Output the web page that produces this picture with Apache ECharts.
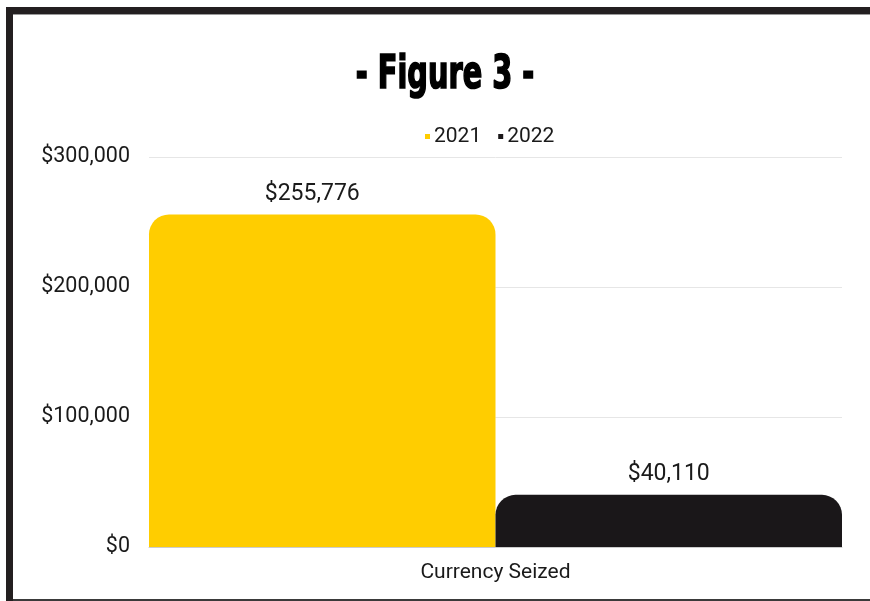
<!DOCTYPE html>
<html><head><meta charset="utf-8">
<script src="https://cdn.jsdelivr.net/npm/echarts@6/dist/echarts.min.js"></script>
<style>html,body{margin:0;padding:0;background:#fff}#c{width:870px;height:601px}</style>
</head><body><div id="c"></div>
<script>
const categories = ['Currency Seized'];
const seriesNames = ['2021', '2022'];
const values2021 = [255776];
const values2022 = [40110];
const yTicks = [0, 100000, 200000, 300000];

const chart = echarts.init(document.getElementById('c'), null, {renderer: 'canvas'});
const fmt = v => '$' + v.toLocaleString('en-US');
const labelStyle = {show: true, position: 'top', distance: 9, color: '#1a1a1a', fontFamily: 'Roboto', fontSize: 23, formatter: p => fmt(p.value)};
chart.setOption({
  animation: false,
  backgroundColor: '#fff',
  graphic: [
    {type: 'rect', shape: {x: 6, y: 7, width: 7, height: 594}, style: {fill: '#231f20'}},
    {type: 'rect', shape: {x: 6, y: 7, width: 864, height: 7}, style: {fill: '#231f20'}},
    {type: 'rect', shape: {x: 13, y: 14, width: 857, height: 1}, style: {fill: '#9a9a9a'}},
    {type: 'rect', shape: {x: 13, y: 599, width: 857, height: 2}, style: {fill: '#3a3a3a'}},
    {type: 'text', x: 445, y: 76, scaleX: 0.8, scaleY: 1.14,
      style: {text: '- Figure 3 -', fill: '#000', stroke: '#000', lineWidth: 1.5, font: 'bold 40px "Liberation Sans Narrow", "DejaVu Sans Condensed", sans-serif', textAlign: 'center', textVerticalAlign: 'middle'}}
  ],
  legend: {
    data: seriesNames, left: 420, top: 121, itemWidth: 5, itemHeight: 5, itemGap: 17, icon: 'rect',
    textStyle: {fontFamily: 'Roboto', fontSize: 21, color: '#1a1a1a', padding: [0, 0, 0, -1]}
  },
  grid: {left: 149, right: 28, top: 157, bottom: 54},
  xAxis: {
    type: 'category', data: categories,
    axisLine: {lineStyle: {color: '#cccccc'}}, axisTick: {show: false},
    axisLabel: {fontFamily: 'Roboto', fontSize: 21, color: '#1a1a1a', margin: 15}
  },
  yAxis: {
    type: 'value', min: 0, max: 300000, interval: 100000,
    axisLine: {show: false}, axisTick: {show: false},
    splitLine: {lineStyle: {color: '#e6e6e6'}},
    axisLabel: {fontFamily: 'Roboto', fontSize: 21.5, color: '#1a1a1a', margin: 19, formatter: v => fmt(v)}
  },
  series: [
    {name: seriesNames[0], type: 'bar', data: values2021, barGap: '0%', barCategoryGap: '0%',
      itemStyle: {color: '#ffcd00', borderRadius: [20, 20, 0, 0]}, label: Object.assign({}, labelStyle, {offset: [-10, 0]})},
    {name: seriesNames[1], type: 'bar', data: values2022, barGap: '0%', barCategoryGap: '0%',
      itemStyle: {color: '#1a1719', borderRadius: [20, 20, 0, 0]}, label: labelStyle}
  ]
});
</script></body></html>
